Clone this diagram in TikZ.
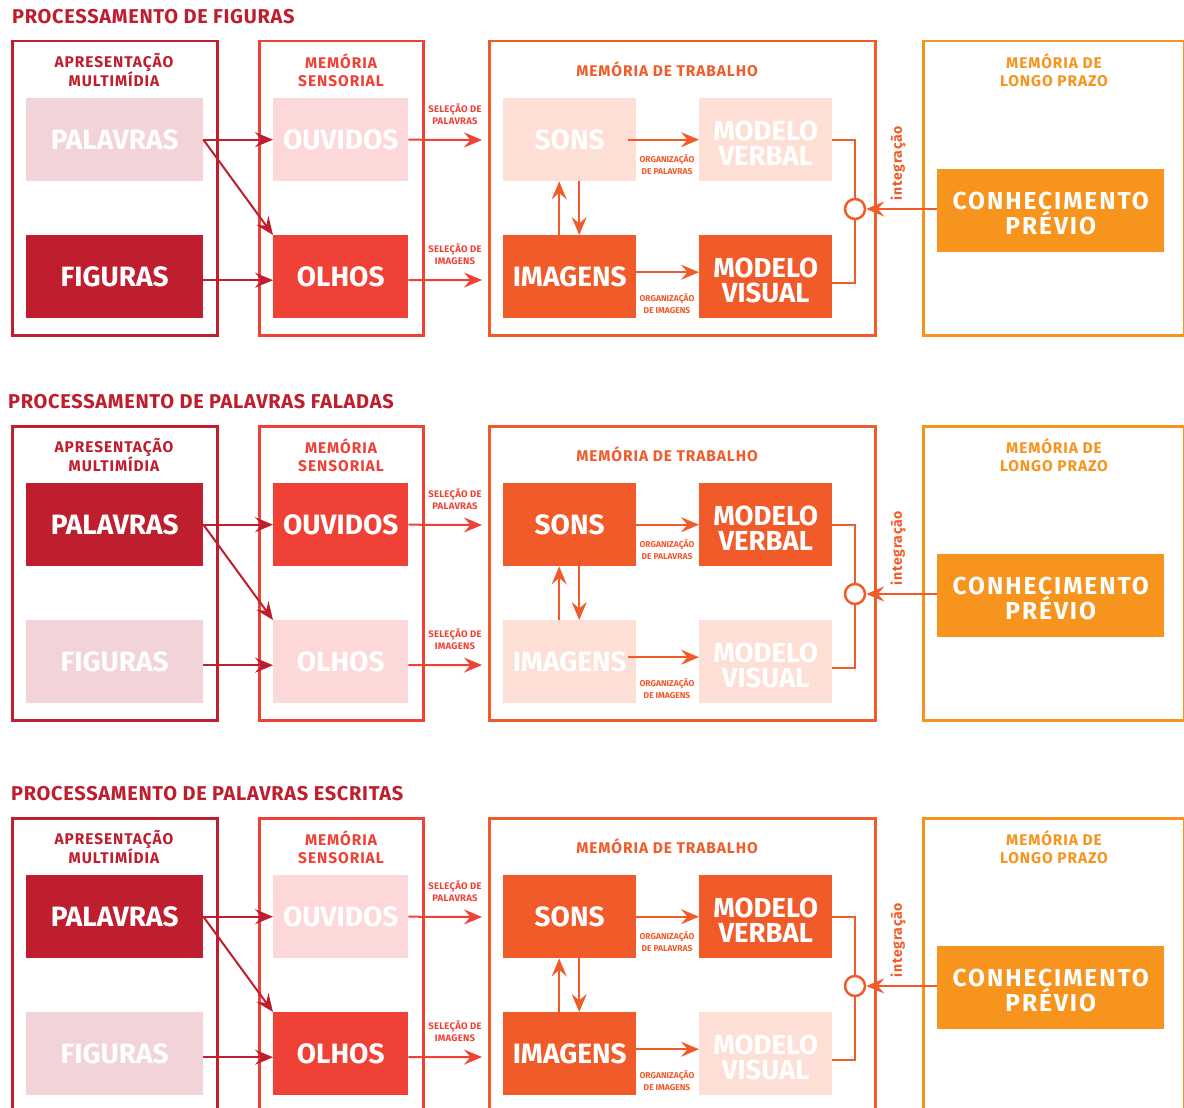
\documentclass[tikz,border=0pt]{standalone}
\usepackage{fontspec}
\setmainfont{Fira Sans}
\newfontfamily\ftitle[LetterSpace=3.5]{Fira Sans}
\newfontfamily\fhead[LetterSpace=6]{Fira Sans}
\newfontfamily\fconh[LetterSpace=8]{Fira Sans}
\newfontfamily\fsel[LetterSpace=3]{Fira Sans}
\newfontfamily\finteg[LetterSpace=5]{Fira Sans}
\usetikzlibrary{arrows.meta}

\definecolor{cA}{HTML}{BE1E2D}
\definecolor{cB}{HTML}{EF4136}
\definecolor{cC}{HTML}{F15A29}
\definecolor{cD}{HTML}{F7941D}
\definecolor{cAdim}{HTML}{F2D3D7}
\definecolor{cBdim}{HTML}{FCD9D8}
\definecolor{cCdim}{HTML}{FDDFD5}

\tikzset{
  frame/.style={draw, line width=2.5pt, anchor=north west, inner sep=0pt,
    minimum height=294pt},
  ptitle/.style={anchor=west, inner sep=0pt, text=cA,
    font=\ftitle\fontsize{20}{20}\selectfont\bfseries},
  head/.style={align=center, inner sep=0pt,
    font=\fhead\fontsize{15.5}{18}\selectfont\bfseries},
  sel/.style={align=center, inner sep=0pt, text=cB,
    font=\fsel\fontsize{9.5}{11.5}\selectfont\bfseries},
  org/.style={align=center, inner sep=0pt, text=cC,
    font=\fontsize{8.5}{12}\selectfont\bfseries},
  blk/.style={anchor=north west, inner sep=0pt, minimum height=83pt,
    text=white, align=center, font=\fontsize{28}{28}\selectfont\bfseries},
  txt2/.style={inner sep=0pt, text=white, align=center,
    font=\fontsize{27.5}{25}\selectfont\bfseries},
  txtconh/.style={inner sep=0pt, text=white, align=center,
    font=\fconh\fontsize{24.5}{25}\selectfont\bfseries},
  wA/.style={minimum width=177pt},
  wB/.style={minimum width=135pt},
  wC/.style={minimum width=133pt},
  onA/.style={fill=cA}, offA/.style={fill=cAdim},
  onB/.style={fill=cB}, offB/.style={fill=cBdim},
  onC/.style={fill=cC}, offC/.style={fill=cCdim},
  tipstyle/.style={-{Stealth[length=18pt,width=15pt,inset=6.5pt]}},
  arrA/.style={draw=cA, line width=2pt, tipstyle},
  arrB/.style={draw=cB, line width=2pt, tipstyle},
  arrC/.style={draw=cC, line width=2pt, tipstyle},
  lnC/.style={draw=cC, line width=2pt},
  joint/.style={circle, draw=cC, line width=2.5pt, fill=white,
    minimum size=20pt, inner sep=0pt},
}

% One panel: #1 name prefix, #2 vertical offset, #3 title x, #4 title
\newcommand\drawpanel[4]{%
\begin{scope}[shift={(0,#2)}]
  \node[ptitle] (#1-title) at (#3,17) {#4};
  % containers
  \node[frame, draw=cA, minimum width=205pt] (#1-pres) at (11,40) {};
  \node[frame, draw=cB, minimum width=164pt] (#1-sens) at (258,40) {};
  \node[frame, draw=cC, minimum width=386pt] (#1-work) at (488,40) {};
  \node[frame, draw=cD, minimum width=261pt] (#1-long) at (922,40) {};
  \node[head, text=cA] (#1-presh) at (114,70) {APRESENTAÇÃO\\MULTIMÍDIA};
  \node[head, text=cB] (#1-sensh) at (341,70) {MEMÓRIA\\SENSORIAL};
  \node[head, text=cC] (#1-workh) at (667,69) {MEMÓRIA DE TRABALHO};
  \node[head, text=cD] (#1-longh) at (1054,70) {MEMÓRIA DE\\LONGO PRAZO};
  % blocks
  \node[blk, wA, sPal] (#1-pal) at (26,98) {PALAVRAS};
  \node[blk, wA, sFig] (#1-fig) at (26,235) {FIGURAS};
  \node[blk, wB, sOuv] (#1-ouv) at (273,98) {OUVIDOS};
  \node[blk, wB, sOlh] (#1-olh) at (273,235) {OLHOS};
  \node[blk, wC, sSon] (#1-son) at (503,98) {SONS};
  \node[blk, wC, sImg] (#1-img) at (503,235) {IMAGENS};
  \node[blk, wC, sVer] (#1-ver) at (699,98) {};
  \node[txt2] (#1-vert) at ([yshift=-4pt]#1-ver.center) {MODELO\\VERBAL};
  \node[blk, wC, sVis] (#1-vis) at (699,235) {};
  \node[txt2] (#1-vist) at ([yshift=-4pt]#1-vis.center) {MODELO\\VISUAL};
  \node[blk, minimum width=227pt, fill=cD] (#1-conh) at (937,169) {};
  \node[txtconh] (#1-conht) at ([yshift=-3pt]#1-conh.center)
    {CONHECIMENTO\\PRÉVIO};
  \node[joint] (#1-circ) at (855,209) {};
  % small labels
  \node[sel] (#1-sel1) at (455,114) {SELEÇÃO DE\\PALAVRAS};
  \node[sel] (#1-sel2) at (455,254) {SELEÇÃO DE\\IMAGENS};
  \node[org] (#1-org1) at (667,165) {ORGANIZAÇÃO\\DE PALAVRAS};
  \node[org] (#1-org2) at (667,304) {ORGANIZAÇÃO\\DE IMAGENS};
  \node[inner sep=0pt, rotate=90, text=cC,
    font=\finteg\fontsize{14}{14}\selectfont\bfseries] (#1-integ) at (898,163)
    {integração};
  % connectors
  \coordinate (#1-in1) at (482,140);
  \coordinate (#1-in2) at (482,280);
  \draw[arrA] (#1-pal.east) -- (#1-ouv.west);
  \draw[arrA] (#1-pal.east) -- (#1-olh.north west);
  \draw[arrA] ([yshift=-3.5pt]#1-fig.east) -- ([yshift=-3.5pt]#1-olh.west);
  \draw[arrB] (#1-ouv.east) -- (#1-in1);
  \draw[arrB] ([yshift=-3.5pt]#1-olh.east) -- (#1-in2);
  \draw[arrC] ([xshift=-8pt]#1-son.east) -- (#1-ver.west);
  \draw[arrC] ([xshift=-8pt,yshift=4.5pt]#1-img.east) -- ([yshift=4.5pt]#1-vis.west);
  \draw[arrC] ([xshift=-10.5pt]#1-img.north) -- ([xshift=-10.5pt]#1-son.south);
  \draw[arrC] ([xshift=9.5pt]#1-son.south) -- ([xshift=9.5pt]#1-img.north);
  \draw[lnC] (#1-ver.east) -| (#1-circ.north);
  \draw[lnC] ([yshift=-6.5pt]#1-vis.east) -| (#1-circ.south);
  \draw[arrC] (#1-circ -| #1-conh.west) -- (#1-circ.east);
\end{scope}}

\begin{document}
\begin{tikzpicture}[x=1pt, y=-1pt]
  \clip (0,0) rectangle (1184,1108);
  \fill[white] (0,0) rectangle (1184,1108);

  \tikzset{sPal/.style=offA, sFig/.style=onA, sOuv/.style=offB, sOlh/.style=onB,
    sSon/.style=offC, sImg/.style=onC, sVer/.style=offC, sVis/.style=onC}
  \drawpanel{fig}{0}{12}{PROCESSAMENTO DE FIGURAS}

  \tikzset{sPal/.style=onA, sFig/.style=offA, sOuv/.style=onB, sOlh/.style=offB,
    sSon/.style=onC, sImg/.style=offC, sVer/.style=onC, sVis/.style=offC}
  \drawpanel{fal}{385}{8}{PROCESSAMENTO DE PALAVRAS FALADAS}

  \tikzset{sPal/.style=onA, sFig/.style=offA, sOuv/.style=offB, sOlh/.style=onB,
    sSon/.style=onC, sImg/.style=onC, sVer/.style=onC, sVis/.style=offC}
  \drawpanel{esc}{777}{11}{PROCESSAMENTO DE PALAVRAS ESCRITAS}
\end{tikzpicture}
\end{document}
